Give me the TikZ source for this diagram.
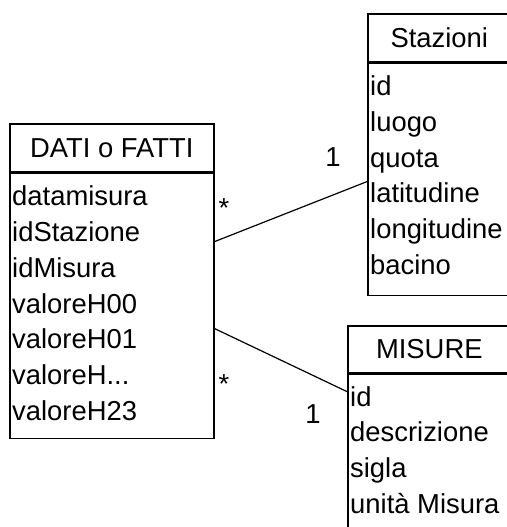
\documentclass[tikz,border=0pt]{standalone}
\usepackage{fontspec}
\setmainfont{Liberation Sans}
\usetikzlibrary{positioning, calc}

\newcommand{\umlsize}{\fontsize{27.5}{36}\selectfont}

\begin{document}
\begin{tikzpicture}[x=1bp, y=-1bp,
    classhead/.style={rectangle, draw, line width=1.6bp, anchor=north west, inner sep=0pt, font=\umlsize},
    classbody/.style={rectangle, draw, line width=1.6bp, anchor=north west, inner sep=0pt},
    attrs/.style={anchor=base west, align=left, inner sep=0pt, font=\umlsize},
    mult/.style={anchor=base, inner sep=0pt, font=\umlsize},
    assoc/.style={line width=1.2bp}]

    \useasboundingbox (0,0) rectangle (507,527);
    \clip (0,0) rectangle (507,527);

    % Fact table
    \node[classhead, minimum width=204bp, minimum height=48bp] (dati_head) at (9,123) {DATI o FATTI};
    \node[classbody, minimum width=204bp, minimum height=265bp] (dati_body) at (dati_head.south west) {};
    % (base of a multi-line node = baseline of its last line)
    \node[attrs] (dati_attrs) at ($(dati_body.north west)+(3,248)$) {datamisura\\idStazione\\idMisura\\valoreH00\\valoreH01\\valoreH...\\valoreH23};

    % Stations
    \node[classhead, minimum width=143bp, minimum height=48bp] (staz_head) at (367,13) {Stazioni};
    \node[classbody, minimum width=143bp, minimum height=232bp] (staz_body) at (staz_head.south west) {};
    \node[attrs] (staz_attrs) at ($(staz_body.north west)+(3,212)$) {id\\luogo\\quota\\latitudine\\longitudine\\bacino};

    % Measures
    \node[classhead, minimum width=163bp, minimum height=47bp] (mis_head) at (347,325) {MISURE};
    \node[classbody, minimum width=163bp, minimum height=170bp] (mis_body) at (mis_head.south west) {};
    \node[attrs] (mis_attrs) at ($(mis_body.north west)+(3,140)$) {id\\descrizione\\sigla\\unità Misura};

    % Associations
    \draw[assoc] ($(dati_body.north east)+(0,69)$) -- ($(staz_body.north west)+(0,119)$);
    \draw[assoc] ($(dati_body.north east)+(0,156)$) -- ($(mis_body.north west)+(0,18)$);

    % Multiplicities
    \node[mult] (staz_many) at (224,217.5) {*};
    \node[mult] (staz_one) at (333,167) {1};
    \node[mult] (mis_many) at (224,393.5) {*};
    \node[mult] (mis_one) at (313,423) {1};

\end{tikzpicture}
\end{document}
